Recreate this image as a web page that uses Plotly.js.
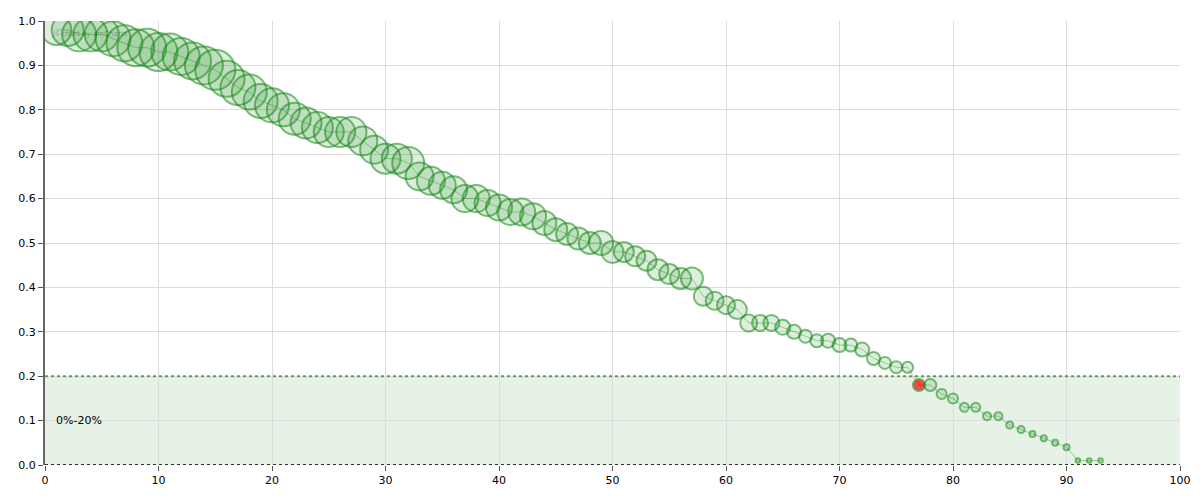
<!DOCTYPE html>
<html>
<head>
<meta charset="utf-8">
<script src="https://cdn.plot.ly/plotly-3.0.1.min.js"></script>
<style>html,body{margin:0;padding:0;background:#fff}#chart{width:1200px;height:500px}</style>
</head>
<body>
<div id="chart"></div>
<script>
var xValues = [];
for (var i = 1; i <= 93; i++) xValues.push(i);
var yValues = [
  0.98,0.98,0.97,0.97,0.97,0.96,0.95,0.94,0.94,0.93,
  0.93,0.92,0.91,0.90,0.89,0.87,0.85,0.84,0.82,0.81,
  0.80,0.78,0.77,0.76,0.75,0.75,0.75,0.73,0.71,0.69,
  0.69,0.68,0.65,0.64,0.63,0.62,0.60,0.60,0.59,0.58,
  0.57,0.57,0.56,0.545,0.53,0.52,0.51,0.50,0.50,0.48,
  0.48,0.47,0.46,0.44,0.43,0.42,0.42,0.38,0.37,0.36,
  0.35,0.32,0.32,0.32,0.31,0.30,0.29,0.28,0.28,0.27,
  0.27,0.26,0.24,0.23,0.22,0.22,0.18,0.18,0.16,0.15,
  0.13,0.13,0.11,0.11,0.09,0.08,0.07,0.06,0.05,0.04,
  0.01,0.01,0.01
];
var bubbleValues = [
  30,32,34,34,34,35,36,37,38,38,
  37,37,37,38,40,36,35,35,34,34,
  33,32,31,31,30,30,30,29,28,30,
  30,32,28,28,27,27,27,27,26,26,
  26,27,26,24,23,22,22,22,24,22,
  20,20,20,21,20,21,22,19,18,18,
  19,17,16,16,15,14,13,13,14,14,
  13,14,13,12,12,11,12,12,10,10,
  9,9,8,8,7,7,6,6,6,6,
  4.5,4.5,4.5
];
var highlightIndex = 76; // x = 77
var bandLabel = "0%-20%";
var bandRange = [0, 0.2];

var colors = xValues.map(function(_, i){ return i === highlightIndex ? "rgb(255,0,0)" : "rgba(20,140,20,0.2)"; });

var traceLine = {
  x: xValues, y: yValues, type: "scatter", mode: "lines",
  line: {color: "rgba(0,128,0,0.35)", width: 1},
  hoverinfo: "skip", showlegend: false
};
var traceBubbles = {
  x: xValues, y: yValues, type: "scatter", mode: "markers",
  marker: {
    size: bubbleValues, sizemode: "diameter", sizeref: 1,
    color: colors,
    line: {color: "rgba(20,135,20,0.8)", width: 2}
  },
  showlegend: false
};

var layout = {
  width: 1200, height: 500,
  margin: {l: 45, r: 20, t: 21, b: 35},
  paper_bgcolor: "#fff", plot_bgcolor: "#fff",
  font: {family: "DejaVu Sans, Verdana, sans-serif", size: 11, color: "#000"},
  xaxis: {
    range: [0, 100], dtick: 10, tick0: 0,
    showgrid: true, gridcolor: "#dcdcdc", gridwidth: 1,
    zeroline: false, showline: false,
    ticks: "outside", ticklen: 5, tickcolor: "#555",
    tickfont: {size: 11}, fixedrange: true
  },
  yaxis: {
    range: [0, 1], dtick: 0.1, tick0: 0, tickformat: ".1f",
    showgrid: true, gridcolor: "#dcdcdc", gridwidth: 1,
    zeroline: false, showline: true, linecolor: "#666", linewidth: 2,
    ticks: "outside", ticklen: 5, tickcolor: "#555",
    tickfont: {size: 11}, fixedrange: true
  },
  shapes: [
    {type: "rect", xref: "paper", yref: "y", x0: 0, x1: 1, y0: bandRange[0], y1: bandRange[1],
     fillcolor: "rgba(0,128,0,0.1)", line: {width: 0}, layer: "below"},
    {type: "line", xref: "paper", yref: "y", x0: 0, x1: 1, y0: bandRange[1], y1: bandRange[1],
     line: {color: "rgba(0,128,0,0.65)", width: 2, dash: "dot"}},
    {type: "line", xref: "paper", yref: "y", x0: 0, x1: 1, y0: bandRange[0], y1: bandRange[0],
     line: {color: "#333", width: 2, dash: "dot"}}
  ],
  annotations: [
    {xref: "paper", yref: "y", x: 0.008, y: (bandRange[0] + bandRange[1]) / 2,
     xanchor: "left", yanchor: "middle", text: bandLabel, showarrow: false,
     font: {size: 11, color: "#000"}},
    {xref: "paper", yref: "paper", x: 0.004, y: 0.985, xanchor: "left", yanchor: "top",
     text: "JS chart by amCharts", showarrow: false,
     font: {size: 7, color: "rgba(0,0,0,0.3)"}}
  ]
};

Plotly.newPlot("chart", [traceLine, traceBubbles], layout, {displayModeBar: false, staticPlot: true});
</script>
</body>
</html>
